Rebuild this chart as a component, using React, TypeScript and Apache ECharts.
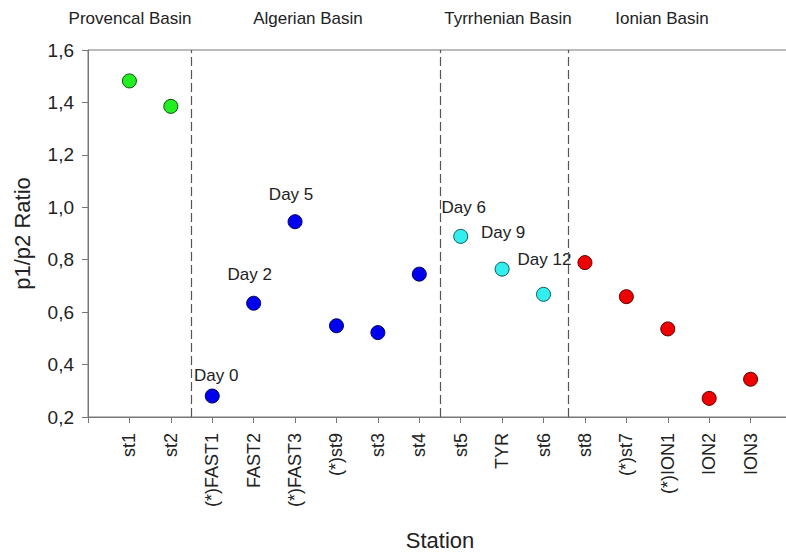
import React, { useEffect, useRef } from "react";
import * as echarts from "echarts";

const stations = ["st1", "st2", "(*)FAST1", "FAST2", "(*)FAST3", "(*)st9", "st3", "st4", "st5", "TYR", "st6", "st8", "(*)st7", "(*)ION1", "ION2", "ION3"];
const ratios = [1.482, 1.385, 0.28, 0.634, 0.945, 0.548, 0.522, 0.745, 0.889, 0.764, 0.668, 0.789, 0.659, 0.536, 0.271, 0.344];
const dayLabels = ["", "", "Day 0", "Day 2", "Day 5", "", "", "", "Day 6", "Day 9", "Day 12", "", "", "", "", ""];
const basinNames = ["Provencal Basin", "Algerian Basin", "Tyrrhenian Basin", "Ionian Basin"];
const basinCounts = [2, 6, 3, 5];
const dividers = [2.5, 8.5, 11.6];
const yTicks = { min: 0.2, max: 1.6, interval: 0.2 };

const basinColors = ["#22ee22", "#0000ee", "#33eeee", "#ee0000"];
const basinBorders = ["#0a4a0a", "#00005a", "#0a5a5a", "#5a0000"];
const basinLabelX = [130, 308, 508, 662];
const labelOffsets: Record<string, [number, number]> = {
  "Day 0": [4, 0],
  "Day 2": [-4, -8],
  "Day 5": [-4, -6],
  "Day 6": [3, -8],
  "Day 9": [1, -16],
  "Day 12": [1, -14],
};

const FONT = "Liberation Sans, Arial, sans-serif";

export default function App() {
  const ref = useRef<HTMLDivElement>(null);
  useEffect(() => {
    document.body.style.margin = "0";
    if (!ref.current) return;
    const chart = echarts.init(ref.current, undefined, { renderer: "svg" });
    let start = 0;
    const series: any[] = basinNames.map((name, b) => {
      const data: any[] = [];
      for (let i = start; i < start + basinCounts[b]; i++) {
        const lbl = dayLabels[i];
        data.push({
          value: [i + 1, ratios[i]],
          label: lbl
            ? {
                show: true,
                position: "top",
                distance: 5,
                formatter: lbl,
                offset: labelOffsets[lbl] || [0, 0],
                fontSize: 17,
                fontFamily: FONT,
                color: "#222",
              }
            : { show: false },
        });
      }
      start += basinCounts[b];
      const s: any = {
        name,
        type: "scatter",
        symbol: "circle",
        symbolSize: 14,
        itemStyle: { color: basinColors[b], borderColor: basinBorders[b], borderWidth: 1, opacity: 1 },
        data,
        z: 3,
      };
      if (b === 0) {
        s.markLine = {
          silent: true,
          symbol: "none",
          label: { show: false },
          lineStyle: { type: [9, 4], color: "#555", width: 1.2 },
          data: dividers.map((d) => ({ xAxis: d })),
        };
      }
      return s;
    });

    chart.setOption({
      animation: false,
      backgroundColor: "#fff",
      textStyle: { fontFamily: FONT },
      grid: {
        left: 88,
        top: 50,
        width: 704,
        height: 367,
        containLabel: false,
        outerBoundsMode: "none",
        show: true,
        borderColor: "#777",
        borderWidth: 1,
        backgroundColor: "transparent",
      },
      xAxis: {
        type: "value",
        min: 0,
        max: 17,
        interval: 1,
        name: "Station",
        nameLocation: "middle",
        nameGap: 112,
        nameTextStyle: { fontSize: 22, color: "#222", fontFamily: FONT },
        axisLine: { show: true, lineStyle: { color: "#777", width: 1 } },
        axisTick: { show: true, length: 6, lineStyle: { color: "#777" } },
        splitLine: { show: false },
        axisLabel: {
          rotate: 90,
          margin: 16,
          fontSize: 18,
          color: "#222",
          fontFamily: FONT,
          formatter: (v: number) => stations[Math.round(v) - 1] ?? "",
        },
      },
      yAxis: {
        type: "value",
        min: yTicks.min,
        max: yTicks.max,
        interval: yTicks.interval,
        name: "p1/p2 Ratio",
        nameLocation: "middle",
        nameGap: 55,
        nameTextStyle: { fontSize: 22, color: "#222", fontFamily: FONT },
        axisLine: { show: true, lineStyle: { color: "#777", width: 1 } },
        axisTick: { show: true, length: 6, lineStyle: { color: "#777" } },
        splitLine: { show: false },
        axisLabel: {
          margin: 14,
          fontSize: 19,
          color: "#222",
          fontFamily: FONT,
          formatter: (v: number) => v.toFixed(1).replace(".", ","),
        },
      },
      graphic: basinNames.map((n, i) => ({
        type: "text",
        x: basinLabelX[i],
        y: 18,
        style: { text: n, fontSize: 17, fontFamily: FONT, fill: "#222", textAlign: "center", textVerticalAlign: "middle" },
      })),
      series,
    });
    return () => chart.dispose();
  }, []);
  return <div ref={ref} style={{ width: 786, height: 556 }} />;
}
